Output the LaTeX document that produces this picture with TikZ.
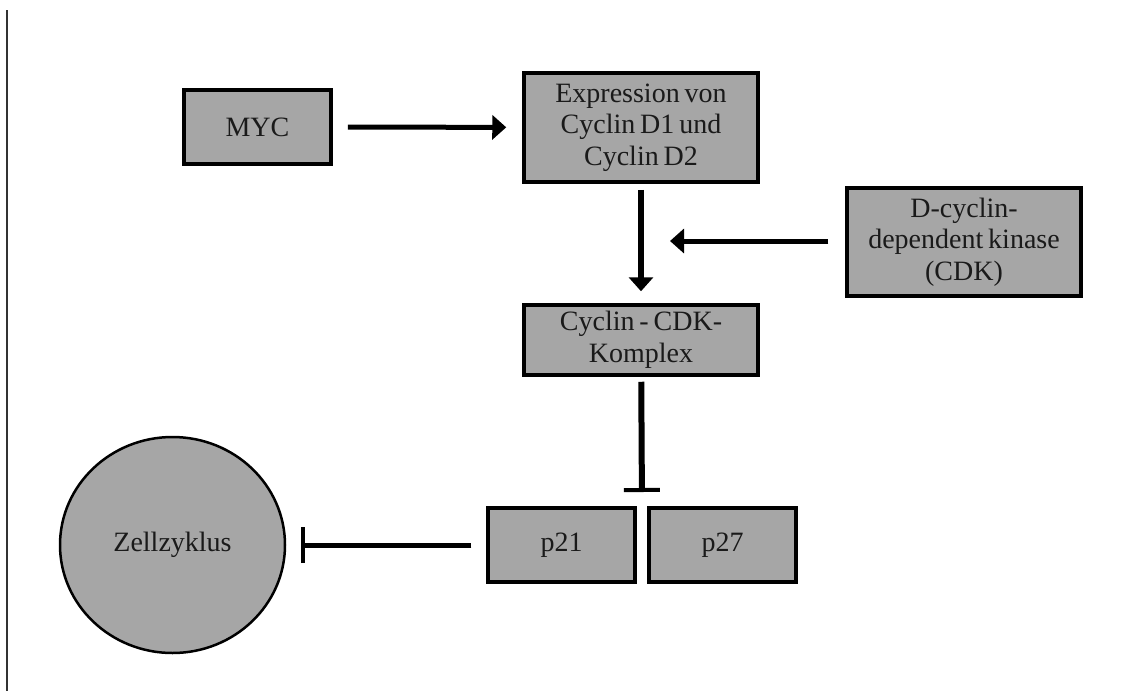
\documentclass[tikz,border=0pt]{standalone}
\usepackage{fontspec}
\setmainfont{Liberation Serif}[WordSpace=0.7]
\usetikzlibrary{arrows.meta,shapes.geometric}
\definecolor{boxgray}{HTML}{A6A6A6}
\definecolor{txt}{HTML}{1A1A1A}
\definecolor{frame}{HTML}{333333}
\begin{document}
\begin{tikzpicture}[x=1pt,y=-1pt,
  box/.style={draw=black,line width=3.5pt,fill=boxgray,align=center,
    font=\fontsize{28}{31.5}\selectfont,text=txt,inner sep=0pt},
  arr/.style={line width=5pt,-{Triangle[length=14pt,width=24pt]}},
  inh/.style={line width=5pt,-{Bar[width=36pt,line width=4pt]}}]
\useasboundingbox (0,0) rectangle (1129,691);
\coordinate (ft) at (7,10);
\coordinate (fb) at (7,691);
\draw[frame,line width=2pt] (ft) -- (fb);
\node[box,minimum width=147pt,minimum height=74pt] (myc) at (257.5,127) {MYC};
\node[box,minimum width=234pt,minimum height=109pt] (expr) at (641,127.5) {Expression von\\Cyclin D1 und\\Cyclin D2};
\node[box,minimum width=234pt,minimum height=108pt] (dcdk) at (964,242) {D-cyclin-\\dependent kinase\\(CDK)};
\node[box,minimum width=234pt,minimum height=70pt] (ckx) at (641,340) {Cyclin - CDK-\\Komplex};
\node[box,minimum width=147pt,minimum height=74pt] (p21) at (561.5,545) {p21};
\node[box,minimum width=147pt,minimum height=74pt] (p27) at (722.5,545) {p27};
\node[ellipse,draw=black,line width=2.5pt,fill=boxgray,text=txt,font=\fontsize{28}{31.5}\selectfont,
  minimum width=225pt,minimum height=216pt,inner sep=0pt] (zz) at (172.5,545) {Zellzyklus};
\coordinate (tip) at (670,241);
\coordinate (pp) at (642,508);
\draw[arr,shorten <=15pt,shorten >=16pt] (myc) -- (expr);
\draw[arr,line width=6pt,shorten <=6pt,shorten >=12pt] (expr) -- (ckx);
\draw[arr,shorten <=17pt] (dcdk.west |- tip) -- (tip);
\draw[inh,line width=6pt,shorten <=5pt,shorten >=16pt] (ckx) -- (pp);
\draw[inh,shorten <=15pt,shorten >=15pt] (p21) -- (zz);
\end{tikzpicture}
\end{document}
